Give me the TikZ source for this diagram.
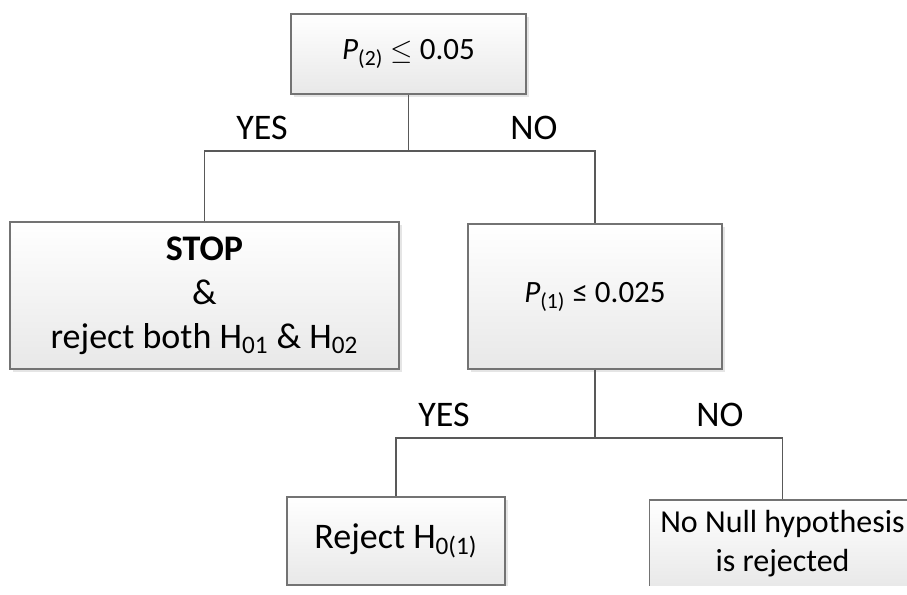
\documentclass[tikz,border=0pt]{standalone}
\usepackage{fontspec}
\setmainfont{Carlito}
\usetikzlibrary{shadows}

\begin{document}
\begin{tikzpicture}[x=0.5pt, y=-0.5pt,
		every node/.style={font=\fontsize{18}{22}\selectfont},
		box/.style={draw=black!55, line width=0.6pt, top color=white, bottom color=black!9,
			drop shadow={shadow xshift=1.5pt, shadow yshift=-1.5pt, fill=black!20}, align=center, inner sep=0pt},
		small/.style={font=\fontsize{15.5}{19.5}\selectfont},
		link/.style={draw=black!65, line width=0.6pt}]
			\useasboundingbox (0,0) rectangle (907,595);
			\node[box, small, minimum width=117.5pt, minimum height=40pt] (test2) at (408.5,54) {\textit{P}\textsubscript{(2)} $\leq$ 0.05};
			\node[box, minimum width=194.5pt, minimum height=73.5pt] (stop) at (204.5,295.5) {\textbf{STOP}\\ \&\\ reject both H\textsubscript{01} \& H\textsubscript{02}};
			\node[box, small, minimum width=127pt, minimum height=72.5pt] (test1) at (595,296.5) {\textit{P}\textsubscript{(1)} ≤ 0.025};
			\begin{scope}
				\clip (0,0) rectangle (907,585);
				\node[box, minimum width=109pt, minimum height=44pt] (rej1) at (396,541) {Reject H\textsubscript{0(1)}};
				\node[box, small, font=\fontsize{16}{19.5}\selectfont, minimum width=133pt, minimum height=44pt] (none) at (782.5,544) {No Null hypothesis\\ is rejected};
			\end{scope}
			\coordinate (j2) at (408.5,151);
			\coordinate (j1) at (595,438);
			\draw[link] (test2.south) -- (j2);
			\draw[link] (stop.north) |- (j2) -| (test1.north);
			\draw[link] (test1.south) -- (j1);
			\draw[link] (rej1.north) |- (j1) -| (none.north);
			\node (yes2) at (262,128) {YES};
			\node (no2) at (534,128) {NO};
			\node (yes1) at (444,415) {YES};
			\node (no1) at (720,415) {NO};
\end{tikzpicture}
\end{document}
